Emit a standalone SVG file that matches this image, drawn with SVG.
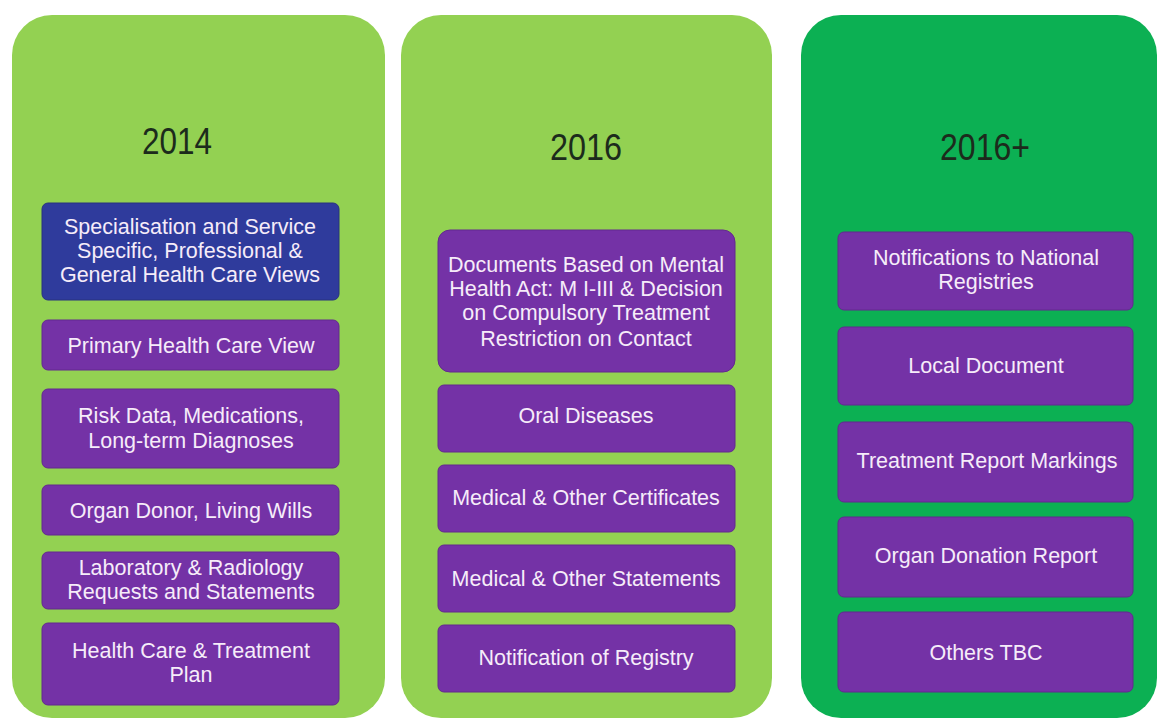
<svg xmlns="http://www.w3.org/2000/svg" width="1160" height="720" viewBox="0 0 1160 720">
<style>
.panel-l{fill:#93d152;}
.panel-d{fill:#0cb053;}
.box{fill:#7432a6;stroke:#63298f;stroke-width:1;}
.blue{fill:#2f3b9c;stroke:#28327f;stroke-width:1;}
.t{font-family:"Liberation Sans",Arial,sans-serif;font-size:21.5px;fill:#f6ecf9;text-anchor:middle;}
.yr{font-family:"Liberation Sans",Arial,sans-serif;font-size:36px;fill:#1c2b1c;text-anchor:middle;}
</style>
<rect width="1160" height="720" fill="#ffffff"/>
<g id="col2014">
<rect class="panel-l" x="12" y="15" width="373" height="703" rx="40"/>
<text class="yr" x="177" y="154" textLength="70" lengthAdjust="spacingAndGlyphs">2014</text>
</g>
<g id="col2016">
<rect class="panel-l" x="401" y="15" width="371" height="703" rx="40"/>
<text class="yr" x="586" y="160" textLength="72" lengthAdjust="spacingAndGlyphs">2016</text>
</g>
<g id="col2016plus">
<rect class="panel-d" x="801" y="15" width="356" height="703" rx="40"/>
<text class="yr" x="985" y="160" textLength="90" lengthAdjust="spacingAndGlyphs">2016+</text>
</g>
<g id="connectors"></g>
<g id="n1a"><rect class="blue" x="42" y="203" width="297" height="97" rx="6"/>
<text class="t" x="190" y="234">Specialisation and Service</text>
<text class="t" x="190" y="258">Specific, Professional &amp;</text>
<text class="t" x="190" y="282">General Health Care Views</text></g>
<g id="n1b"><rect class="box" x="42" y="320" width="297" height="50" rx="6"/>
<text class="t" x="191" y="353">Primary Health Care View</text></g>
<g id="n1c"><rect class="box" x="42" y="389" width="297" height="79" rx="6"/>
<text class="t" x="191" y="423">Risk Data, Medications,</text>
<text class="t" x="191" y="448">Long-term Diagnoses</text></g>
<g id="n1d"><rect class="box" x="42" y="485" width="297" height="50" rx="6"/>
<text class="t" x="191" y="518">Organ Donor, Living Wills</text></g>
<g id="n1e"><rect class="box" x="42" y="552" width="297" height="57" rx="6"/>
<text class="t" x="191" y="575">Laboratory &amp; Radiology</text>
<text class="t" x="191" y="599">Requests and Statements</text></g>
<g id="n1f"><rect class="box" x="42" y="623" width="297" height="82" rx="6"/>
<text class="t" x="191" y="658">Health Care &amp; Treatment</text>
<text class="t" x="191" y="682">Plan</text></g>
<g id="n2a"><rect class="box" x="438" y="230" width="297" height="142" rx="12"/>
<text class="t" x="586" y="272">Documents Based on Mental</text>
<text class="t" x="586" y="296">Health Act: M I-III &amp; Decision</text>
<text class="t" x="586" y="320">on Compulsory Treatment</text>
<text class="t" x="586" y="346">Restriction on Contact</text></g>
<g id="n2b"><rect class="box" x="438" y="385" width="297" height="67" rx="6"/>
<text class="t" x="586" y="423">Oral Diseases</text></g>
<g id="n2c"><rect class="box" x="438" y="465" width="297" height="67" rx="6"/>
<text class="t" x="586" y="505">Medical &amp; Other Certificates</text></g>
<g id="n2d"><rect class="box" x="438" y="545" width="297" height="67" rx="6"/>
<text class="t" x="586" y="586">Medical &amp; Other Statements</text></g>
<g id="n2e"><rect class="box" x="438" y="625" width="297" height="67" rx="6"/>
<text class="t" x="586" y="665">Notification of Registry</text></g>
<g id="n3a"><rect class="box" x="838" y="232" width="295" height="78" rx="6"/>
<text class="t" x="986" y="265">Notifications to National</text>
<text class="t" x="986" y="289">Registries</text></g>
<g id="n3b"><rect class="box" x="838" y="327" width="295" height="78" rx="6"/>
<text class="t" x="986" y="373">Local Document</text></g>
<g id="n3c"><rect class="box" x="838" y="422" width="295" height="80" rx="6"/>
<text class="t" x="987" y="468">Treatment Report Markings</text></g>
<g id="n3d"><rect class="box" x="838" y="517" width="295" height="80" rx="6"/>
<text class="t" x="986" y="563">Organ Donation Report</text></g>
<g id="n3e"><rect class="box" x="838" y="612" width="295" height="80" rx="6"/>
<text class="t" x="986" y="660">Others TBC</text></g>
</svg>
